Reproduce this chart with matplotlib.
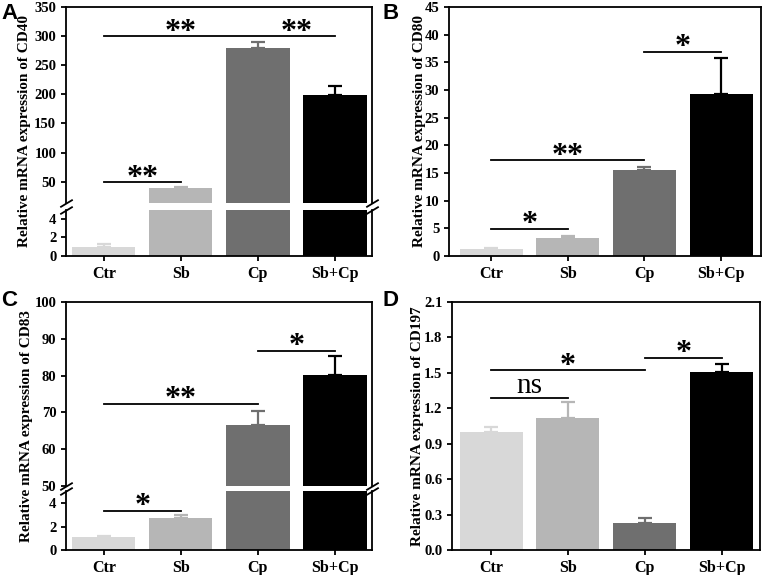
import matplotlib.pyplot as plt

# Relative mRNA expression, four groups
groups = ['Ctr', 'Sb', 'Cp', 'Sb+Cp']
colors = ['#d8d8d8', '#b6b6b6', '#6f6f6f', '#000000']

cd40_mean = [1.0, 39.7, 280, 199]
cd40_err = [0.25, 1.7, 10, 15]
cd80_mean = [1.2, 3.25, 15.5, 29.3]
cd80_err = [0.2, 0.4, 0.5, 6.5]
cd83_mean = [1.12, 2.74, 66.6, 80.1]
cd83_err = [0.08, 0.24, 3.9, 5.1]
cd197_mean = [1.0, 1.12, 0.23, 1.51]
cd197_err = [0.04, 0.13, 0.045, 0.065]

# significance brackets: (from, to, height) and labels: (x, height, text)
cd40_lines = [(0, 1, 49), (0, 3, 300)]
cd40_marks = [(0.5, 49, '**'), (1, 300, '**'), (2.5, 300, '**')]
cd80_lines = [(0, 1, 4.9), (0, 2, 17.3), (2, 3, 36.9)]
cd80_marks = [(0.5, 4.9, '*'), (1, 17.3, '**'), (2.5, 36.9, '*')]
cd83_lines = [(0, 1, 3.36), (0, 2, 72.3), (2, 3, 86.7)]
cd83_marks = [(0.5, 3.36, '*'), (1, 72.3, '**'), (2.5, 86.7, '*')]
cd197_lines = [(0, 1, 1.29), (0, 2, 1.52), (2, 3, 1.626)]
cd197_marks = [(0.5, 1.29, 'ns'), (1, 1.52, '*'), (2.5, 1.626, '*')]

SERIF = 'Liberation Serif'
plt.rcParams['font.family'] = SERIF
plt.rcParams['font.weight'] = 'bold'

fig = plt.figure(figsize=(7.63, 5.75), dpi=100)
W, H = 763, 575


def box(l, r, t, b):
    return [l / W, 1 - b / H, (r - l) / W, (b - t) / H]


def style(ax, ylim, yticks, xlim, show_x=True):
    ax.set_xlim(*xlim)
    ax.set_ylim(*ylim)
    ax.set_yticks(yticks)
    ax.set_yticklabels([str(t) for t in yticks], fontsize=10.5, fontweight='bold')
    for s in ax.spines.values():
        s.set_linewidth(1.3)
    ax.tick_params(axis='both', direction='out', length=3.5, width=1.3)
    if show_x:
        ax.set_xticks(range(len(groups)))
        ax.set_xticklabels(groups, fontsize=11.5, fontweight='bold')
    else:
        ax.set_xticks([])


def draw_bars(ax, mean, err):
    for i in range(len(groups)):
        ax.bar(i, mean[i], width=0.82, color=colors[i], zorder=2)
        ax.errorbar(i, mean[i], yerr=[[0], [err[i]]], fmt='none',
                    ecolor=colors[i], elinewidth=1.6, capsize=5,
                    capthick=1.6, zorder=1)


def sig(ax, lines, marks):
    for x1, x2, y in lines:
        ax.plot([x1, x2], [y, y], color='black', lw=1.3, zorder=3, clip_on=False)
    for x, y, txt in marks:
        if txt == 'ns':
            ax.annotate(txt, (x, y), xytext=(0, 3.5), textcoords='offset points',
                        ha='center', va='baseline', fontsize=21,
                        fontweight='normal', annotation_clip=False)
        else:
            ax.annotate(txt, (x, y), xytext=(0, -2.5), textcoords='offset points',
                        ha='center', va='baseline', fontsize=23,
                        fontweight='bold', annotation_clip=False)


def broken(top, bottom):
    top.spines['bottom'].set_visible(False)
    bottom.spines['top'].set_visible(False)
    kw = dict(marker=[(-1, -0.6), (1, 0.6)], markersize=9, linestyle='none',
              color='k', mec='k', mew=1.3, clip_on=False)
    top.plot([0, 1], [0, 0], transform=top.transAxes, **kw)
    bottom.plot([0, 1], [1, 1], transform=bottom.transAxes, **kw)


# A: CD40 (broken axis)
a_top = fig.add_axes(box(66, 372, 7, 203))
a_bot = fig.add_axes(box(66, 372, 210, 256))
for ax in (a_top, a_bot):
    draw_bars(ax, cd40_mean, cd40_err)
style(a_top, (13.5, 350), [50, 100, 150, 200, 250, 300, 350], (-0.49, 3.48), show_x=False)
style(a_bot, (0, 4.96), [0, 2, 4], (-0.49, 3.48))
broken(a_top, a_bot)
sig(a_top, cd40_lines, cd40_marks)

# B: CD80
b = fig.add_axes(box(449, 761, 7, 256))
draw_bars(b, cd80_mean, cd80_err)
style(b, (0, 45), list(range(0, 46, 5)), (-0.55, 3.52))
sig(b, cd80_lines, cd80_marks)

# C: CD83 (broken axis)
c_top = fig.add_axes(box(66, 372, 302, 486))
c_bot = fig.add_axes(box(66, 372, 491, 550))
for ax in (c_top, c_bot):
    draw_bars(ax, cd83_mean, cd83_err)
style(c_top, (50, 100), [50, 60, 70, 80, 90, 100], (-0.49, 3.48), show_x=False)
style(c_bot, (0, 5.03), [0, 2, 4], (-0.49, 3.48))
broken(c_top, c_bot)
sig(c_bot, cd83_lines[:1], cd83_marks[:1])
sig(c_top, cd83_lines[1:], cd83_marks[1:])

# D: CD197
d = fig.add_axes(box(452, 760, 302, 550))
draw_bars(d, cd197_mean, cd197_err)
dt = [0.0, 0.3, 0.6, 0.9, 1.2, 1.5, 1.8, 2.1]
style(d, (0, 2.1), dt, (-0.51, 3.5))
d.set_yticklabels(['%.1f' % t for t in dt], fontsize=10.5, fontweight='bold')
sig(d, cd197_lines, cd197_marks)

# y labels and panel letters
ylabels = [(25, 131, 'CD40'), (419, 131, 'CD80'), (27, 426, 'CD83'), (418, 426, 'CD197')]
for x, y, name in ylabels:
    fig.text(x / W, 1 - y / H, 'Relative mRNA expression of ' + name,
             rotation=90, ha='center', va='center', fontsize=11, fontweight='bold')

for x, y, letter in [(1, 3, 'A'), (382, 3, 'B'), (1, 290, 'C'), (382, 290, 'D')]:
    fig.text(x / W, 1 - y / H, letter, ha='left', va='top', fontsize=16,
             fontweight='bold', family='Liberation Sans')

fig.savefig('out.png', dpi=100)
